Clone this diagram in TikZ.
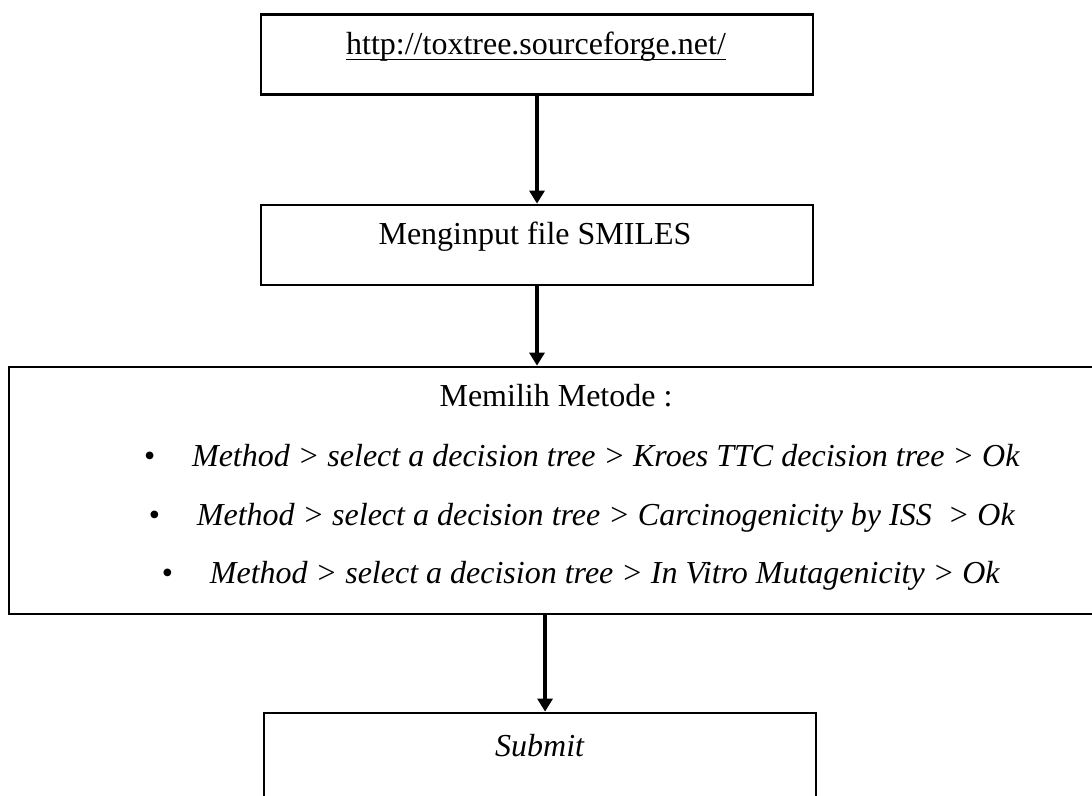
\documentclass[tikz,border=0pt]{standalone}
\usepackage{fontspec}
\setmainfont{Liberation Serif}
\usetikzlibrary{arrows.meta,positioning}
\newcommand{\urlline}[1]{\setbox0\hbox{#1}\rlap{\rule[-2pt]{\wd0}{0.45pt}}\box0}
\newcommand{\stepitem}[1]{\textbullet\hspace{13.8pt}\textit{#1}}
\begin{document}
\begin{tikzpicture}[x=0.375pt,y=-0.375pt,
    box/.style={draw,line width=1pt,inner sep=0pt,minimum width=207pt,minimum height=30pt},
    txt/.style={inner sep=0pt,anchor=base,font=\fontsize{12pt}{14pt}\selectfont},
    flow/.style={line width=1.5pt,-{Triangle[width=5.6pt,length=4.9pt]}}]
    \useasboundingbox (0,0) rectangle (1092,796);
    \begin{scope}
        \clip (0,0) rectangle (1092,796);
        \node[box] (url) at (537,54.5) {};
        \node[box] (smiles) at (537,245) {};
        \node[box,minimum width=410.25pt,minimum height=92.6pt] (method) at (556,490.5) {};
        \node[box,minimum height=37.5pt] (submit) at (540,763) {};

        \node[txt] (urltxt) at (536,55) {\urlline{http://toxtree.sourceforge.net/}};
        \node[txt] (smilestxt) at (535,245) {Menginput file SMILES};
        \node[txt] (methodtxt) at (556,407) {Memilih Metode :};
        \node[txt] (kroes) at (582,467) {\stepitem{Method > select a decision tree > Kroes TTC decision tree > Ok}};
        \node[txt] (iss) at (582,526) {\stepitem{Method > select a decision tree > Carcinogenicity by ISS\ \ > Ok}};
        \node[txt] (vitro) at (581,584) {\stepitem{Method > select a decision tree > In Vitro Mutagenicity > Ok}};
        \node[txt] (submittxt) at (540,757) {\textit{Submit}};

        \draw[flow] (url.south) -- (smiles.north);
        \draw[flow] (smiles.south) -- (smiles.south |- method.north);
        \draw[flow] ([xshift=1.9pt]method.south -| submit.north) -- ([xshift=1.9pt]submit.north);
    \end{scope}
\end{tikzpicture}
\end{document}
